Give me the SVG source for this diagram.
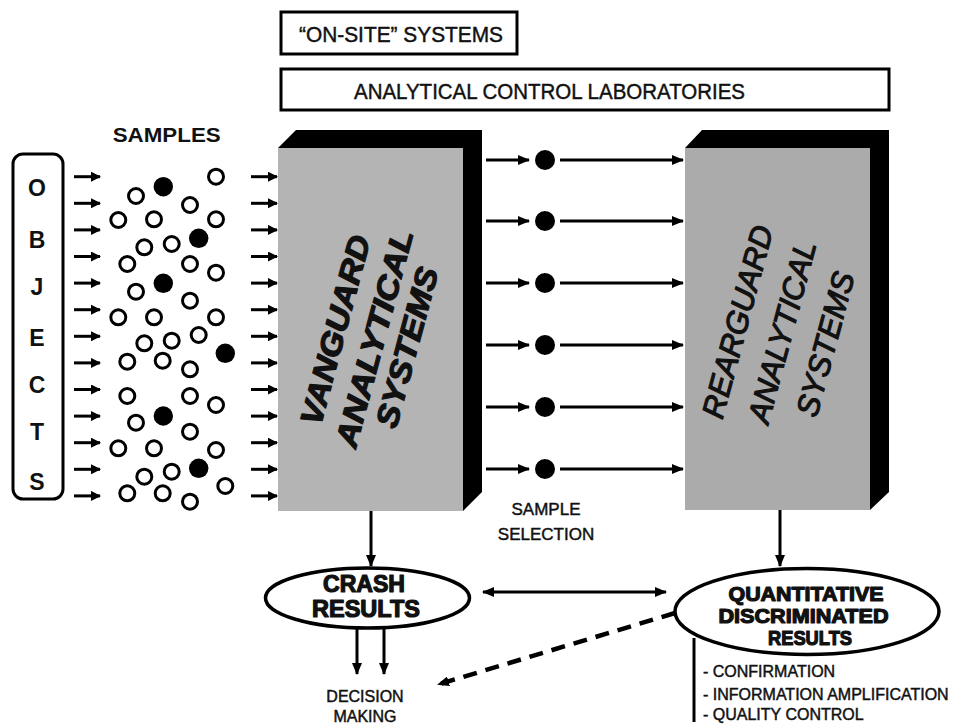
<svg xmlns="http://www.w3.org/2000/svg" width="956" height="725" viewBox="0 0 956 725">
<defs>
<style>
.t{font-family:"Liberation Sans",Arial,sans-serif;fill:#111}
.b{font-weight:bold}
.rg{stroke:#111;stroke-width:0.45}
.hv{stroke:#111;stroke-width:1.2;stroke-linejoin:round}
.ln{stroke:#000;stroke-width:3;fill:none}
.oc{fill:#fff;stroke:#000;stroke-width:3}
.fc{fill:#000}
.box{fill:#fff;stroke:#000;stroke-width:3}
</style>
<marker id="ah" viewBox="0 0 12 10" refX="11" refY="5" markerWidth="12" markerHeight="10" markerUnits="userSpaceOnUse" orient="auto-start-reverse">
<path d="M0,0 L12,5 L0,10 z" fill="#000"/>
</marker>
<marker id="ahs" viewBox="0 0 10 10" refX="9" refY="5" markerWidth="10" markerHeight="10" markerUnits="userSpaceOnUse" orient="auto">
<path d="M0,0 L10,5 L0,10 z" fill="#000"/>
</marker>
</defs>
<rect width="956" height="725" fill="#fff"/>

<g id="onsite">
<rect class="box" x="281" y="12" width="236" height="42"/>
<text class="t rg" x="299" y="42" font-size="22" textLength="204" lengthAdjust="spacingAndGlyphs">“ON-SITE” SYSTEMS</text>
</g>

<g id="labs">
<rect class="box" x="281" y="69" width="608" height="41"/>
<text class="t rg" x="354" y="99" font-size="22" textLength="391" lengthAdjust="spacingAndGlyphs">ANALYTICAL CONTROL LABORATORIES</text>
</g>

<g id="objects">
<rect x="13" y="154" width="50" height="345" rx="10" fill="#fff" stroke="#000" stroke-width="3"/>
<g class="t b" font-size="23" text-anchor="middle">
<text x="37" y="196">O</text>
<text x="37" y="248">B</text>
<text x="37" y="295">J</text>
<text x="37" y="346">E</text>
<text x="37" y="393">C</text>
<text x="37" y="440">T</text>
<text x="37" y="490">S</text>
</g>
</g>

<g id="samples">
<text class="t b" x="166.7" y="142" font-size="21" text-anchor="middle" textLength="108" lengthAdjust="spacingAndGlyphs">SAMPLES</text>
<g class="oc">
<circle cx="216" cy="176.7" r="7.5"/>
<circle cx="136" cy="196" r="7.5"/>
<circle cx="190" cy="205" r="7.5"/>
<circle cx="118.3" cy="220" r="7.5"/>
<circle cx="154" cy="219.3" r="7.5"/>
<circle cx="216" cy="219.3" r="7.5"/>
<circle cx="171.7" cy="244" r="7.5"/>
<circle cx="144.3" cy="247.3" r="7.5"/>
<circle cx="127.3" cy="264" r="7.5"/>
<circle cx="190" cy="264" r="7.5"/>
<circle cx="216" cy="272.7" r="7.5"/>
<circle cx="136" cy="291.7" r="7.5"/>
<circle cx="190" cy="300.7" r="7.5"/>
<circle cx="118.3" cy="317.3" r="7.5"/>
<circle cx="154" cy="317.3" r="7.5"/>
<circle cx="216" cy="317.3" r="7.5"/>
<circle cx="198.7" cy="335" r="7.5"/>
<circle cx="171.7" cy="340.7" r="7.5"/>
<circle cx="144.3" cy="343.3" r="7.5"/>
<circle cx="127.3" cy="361.7" r="7.5"/>
<circle cx="162.7" cy="360.7" r="7.5"/>
<circle cx="190" cy="369.3" r="7.5"/>
<circle cx="127.3" cy="396" r="7.5"/>
<circle cx="190" cy="396" r="7.5"/>
<circle cx="216" cy="405" r="7.5"/>
<circle cx="136" cy="422.7" r="7.5"/>
<circle cx="190" cy="431.7" r="7.5"/>
<circle cx="118.3" cy="448.3" r="7.5"/>
<circle cx="154" cy="448.3" r="7.5"/>
<circle cx="216" cy="450" r="7.5"/>
<circle cx="171.7" cy="471.7" r="7.5"/>
<circle cx="144.3" cy="476.7" r="7.5"/>
<circle cx="225.3" cy="486" r="7.5"/>
<circle cx="127.3" cy="493.3" r="7.5"/>
<circle cx="162.7" cy="493.3" r="7.5"/>
<circle cx="190" cy="501.7" r="7.5"/>
</g>
<g class="fc">
<circle cx="163.3" cy="186.7" r="9.7"/>
<circle cx="198.7" cy="238.3" r="9.7"/>
<circle cx="163.3" cy="283.3" r="9.7"/>
<circle cx="225.3" cy="353.3" r="9.7"/>
<circle cx="163.3" cy="416" r="9.7"/>
<circle cx="198.7" cy="468.3" r="9.7"/>
</g>
</g>

<g id="vanguard">
<polygon points="278,148 296,130 482,130 482,492 463,511 463,148" fill="#000"/>
<rect x="278" y="148" width="185" height="363" fill="#b4b4b4"/>
<g class="t b hv" font-style="italic" font-size="31" text-anchor="middle" stroke-width="1.6">
<text transform="translate(335,330) rotate(-75)" y="11" textLength="195" lengthAdjust="spacingAndGlyphs">VANGUARD</text>
<text transform="translate(374,338.3) rotate(-75)" y="11" textLength="224" lengthAdjust="spacingAndGlyphs">ANALYTICAL</text>
<text transform="translate(406.7,347.3) rotate(-75)" y="11" textLength="165" lengthAdjust="spacingAndGlyphs">SYSTEMS</text>
</g>
</g>

<g id="rearguard">
<polygon points="685,148 702,130 889,130 889,492 870,510 870,148" fill="#000"/>
<rect x="685" y="148" width="185" height="362" fill="#ababab"/>
<g class="t hv" font-style="italic" font-size="31" text-anchor="middle" stroke-width="0.7">
<text transform="translate(737.3,321.7) rotate(-75)" y="11">REARGUARD</text>
<text transform="translate(781.7,331.7) rotate(-75)" y="11">ANALYTICAL</text>
<text transform="translate(825,344) rotate(-75)" y="11">SYSTEMS</text>
</g>
</g>

<g id="selection-dots" class="fc">
<circle cx="545" cy="160" r="10"/>
<circle cx="545" cy="221" r="10"/>
<circle cx="545" cy="283" r="10"/>
<circle cx="545" cy="345" r="10"/>
<circle cx="545" cy="407" r="10"/>
<circle cx="545" cy="469" r="10"/>
</g>

<g id="sample-selection">
<g class="t rg" font-size="17" text-anchor="middle">
<text x="546" y="515">SAMPLE</text>
<text x="546" y="540">SELECTION</text>
</g>
</g>

<g id="crash">
<ellipse cx="367.5" cy="598" rx="102" ry="30" fill="#fff" stroke="#000" stroke-width="3.5"/>
<g class="t b hv" font-size="23" text-anchor="middle" stroke-width="0.9">
<text x="364" y="592" textLength="82" lengthAdjust="spacingAndGlyphs">CRASH</text>
<text x="366" y="617" textLength="108" lengthAdjust="spacingAndGlyphs">RESULTS</text>
</g>
</g>

<g id="quantitative">
<ellipse cx="807" cy="611.5" rx="132" ry="43" fill="#fff" stroke="#000" stroke-width="3.5"/>
<g class="t b hv" font-size="20" text-anchor="middle" stroke-width="0.8">
<text x="806" y="601" textLength="155" lengthAdjust="spacingAndGlyphs">QUANTITATIVE</text>
<text x="803.5" y="623" textLength="170" lengthAdjust="spacingAndGlyphs">DISCRIMINATED</text>
<text x="810" y="645" textLength="84" lengthAdjust="spacingAndGlyphs">RESULTS</text>
</g>
</g>

<g id="decision">
<g class="t rg" font-size="16" text-anchor="middle">
<text x="365" y="702">DECISION</text>
<text x="365" y="722">MAKING</text>
</g>
</g>

<g id="outcomes">
<g class="t rg" font-size="16">
<text x="703" y="677">- CONFIRMATION</text>
<text x="703" y="700">- INFORMATION AMPLIFICATION</text>
<text x="703" y="720">- QUALITY CONTROL</text>
</g>
</g>

<g id="connectors">
<g class="ln" stroke-width="3.5" marker-end="url(#ahs)">
<line x1="74" y1="176.7" x2="100" y2="176.7"/>
<line x1="74" y1="203.3" x2="100" y2="203.3"/>
<line x1="74" y1="229.9" x2="100" y2="229.9"/>
<line x1="74" y1="256.5" x2="100" y2="256.5"/>
<line x1="74" y1="283.1" x2="100" y2="283.1"/>
<line x1="74" y1="309.7" x2="100" y2="309.7"/>
<line x1="74" y1="336.3" x2="100" y2="336.3"/>
<line x1="74" y1="362.9" x2="100" y2="362.9"/>
<line x1="74" y1="389.5" x2="100" y2="389.5"/>
<line x1="74" y1="416.1" x2="100" y2="416.1"/>
<line x1="74" y1="442.7" x2="100" y2="442.7"/>
<line x1="74" y1="469.3" x2="100" y2="469.3"/>
<line x1="74" y1="495.9" x2="100" y2="495.9"/>
<line x1="251" y1="176.7" x2="277" y2="176.7"/>
<line x1="251" y1="203.3" x2="277" y2="203.3"/>
<line x1="251" y1="229.9" x2="277" y2="229.9"/>
<line x1="251" y1="256.5" x2="277" y2="256.5"/>
<line x1="251" y1="283.1" x2="277" y2="283.1"/>
<line x1="251" y1="309.7" x2="277" y2="309.7"/>
<line x1="251" y1="336.3" x2="277" y2="336.3"/>
<line x1="251" y1="362.9" x2="277" y2="362.9"/>
<line x1="251" y1="389.5" x2="277" y2="389.5"/>
<line x1="251" y1="416.1" x2="277" y2="416.1"/>
<line x1="251" y1="442.7" x2="277" y2="442.7"/>
<line x1="251" y1="469.3" x2="277" y2="469.3"/>
<line x1="251" y1="495.9" x2="277" y2="495.9"/>
</g>
<g class="ln" marker-end="url(#ah)">
<line x1="486" y1="160" x2="529" y2="160"/>
<line x1="486" y1="221" x2="529" y2="221"/>
<line x1="486" y1="283" x2="529" y2="283"/>
<line x1="486" y1="345" x2="529" y2="345"/>
<line x1="486" y1="407" x2="529" y2="407"/>
<line x1="486" y1="469" x2="529" y2="469"/>
<line x1="560" y1="160" x2="683" y2="160"/>
<line x1="560" y1="221" x2="683" y2="221"/>
<line x1="560" y1="283" x2="683" y2="283"/>
<line x1="560" y1="345" x2="683" y2="345"/>
<line x1="560" y1="407" x2="683" y2="407"/>
<line x1="560" y1="469" x2="683" y2="469"/>
<line x1="371" y1="511" x2="371" y2="566"/>
<line x1="780" y1="510" x2="780" y2="566"/>
<line x1="357" y1="629" x2="357" y2="674"/>
<line x1="384" y1="629" x2="384" y2="674"/>
<line x1="483" y1="592" x2="666" y2="592" marker-start="url(#ah)"/>
<line x1="675" y1="613" x2="438" y2="684.5" stroke-width="4.5" stroke-dasharray="14 9"/>
</g>
<line class="ln" x1="694" y1="638" x2="694" y2="722"/>
</g>
</svg>
